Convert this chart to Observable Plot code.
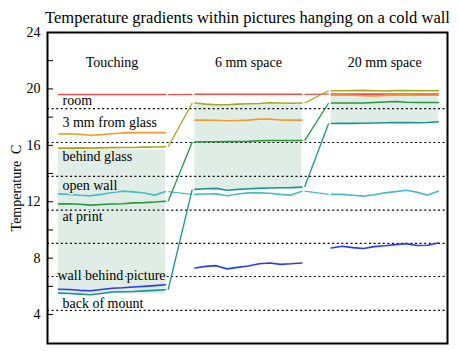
<!DOCTYPE html>
<html><head><meta charset="utf-8">
<script src="https://cdn.jsdelivr.net/npm/d3@7"></script>
<script src="https://cdn.jsdelivr.net/npm/@observablehq/plot@0.6"></script>
<style>body{margin:0;background:#fff}</style>
</head><body><div id="chart"></div>
<script>
const title = "Temperature gradients within pictures hanging on a cold wall";
const yLabel = "Temperature  C";
const panels = ["Touching", "6 mm space", "20 mm space"];
const panelStart = [0, 12.75, 25.5];
const panelLength = 10;
const panelTitleY = 21.9;

const seriesNames = ["room", "3 mm from glass", "behind glass", "open wall", "at print", "wall behind picture", "back of mount"];
const seriesColors = ["#f24a4a", "#f49a2c", "#a9a81c", "#46bcc4", "#22993a", "#2a3af0", "#1b9490"];
const connected = ["room", "behind glass", "open wall", "at print", "back of mount"];

// values [Touching, 6 mm space, 20 mm space], 11 samples each
const room = [
  [19.6,19.6,19.6,19.6,19.6,19.6,19.6,19.6,19.6,19.6,19.6],
  [19.62,19.62,19.62,19.62,19.62,19.62,19.62,19.62,19.62,19.62,19.62],
  [19.63,19.63,19.63,19.63,19.63,19.63,19.63,19.63,19.63,19.63,19.63]];
const mm3FromGlass = [
  [16.8,16.82,16.78,16.72,16.76,16.82,16.88,16.9,16.9,16.9,16.9],
  [17.79,17.79,17.78,17.74,17.76,17.79,17.86,17.86,17.8,17.79,17.79],
  [19.56,19.56,19.55,19.52,19.5,19.54,19.56,19.58,19.56,19.55,19.56]];
const behindGlass = [
  [15.8,15.8,15.82,15.8,15.82,15.84,15.85,15.85,15.87,15.88,15.9],
  [19.0,18.92,18.88,18.88,18.92,18.95,18.97,19.02,19.0,18.98,19.0],
  [19.87,19.87,19.88,19.9,19.87,19.85,19.88,19.88,19.87,19.87,19.87]];
const openWall = [
  [12.56,12.52,12.46,12.42,12.52,12.66,12.75,12.7,12.62,12.47,12.72],
  [12.52,12.55,12.56,12.42,12.55,12.63,12.63,12.6,12.52,12.47,12.75],
  [12.52,12.52,12.46,12.4,12.5,12.63,12.72,12.81,12.68,12.47,12.75]];
const atPrint = [
  [11.85,11.86,11.82,11.76,11.8,11.84,11.86,11.92,11.94,11.98,12.04],
  [16.24,16.25,16.25,16.26,16.27,16.28,16.33,16.34,16.34,16.34,16.34],
  [19.0,19.0,19.0,19.0,19.04,19.07,19.11,19.05,19.04,19.04,19.04]];
const wallBehindPicture = [
  [5.8,5.78,5.72,5.69,5.78,5.87,5.9,5.96,6.0,6.05,6.11],
  [7.3,7.42,7.47,7.24,7.35,7.45,7.6,7.66,7.56,7.6,7.66],
  [8.72,8.84,8.75,8.68,8.82,8.88,8.96,9.03,8.9,8.92,9.08]];
const backOfMount = [
  [5.52,5.5,5.45,5.41,5.5,5.6,5.62,5.64,5.68,5.72,5.76],
  [12.88,12.92,12.95,12.82,12.88,12.92,12.95,12.97,12.99,13.0,13.04],
  [17.55,17.56,17.56,17.57,17.58,17.6,17.61,17.62,17.6,17.62,17.67]];
const seriesValues = [room, mm3FromGlass, behindGlass, openWall, atPrint, wallBehindPicture, backOfMount];

// shaded band (behind glass .. back of mount) per panel
const shadeTop = [15.67, 18.88, 19.5];
const shadeBottom = [5.45, 12.9, 17.55];

// dotted separators between the labels
const separators = [18.6, 16.2, 13.8, 11.4, 9.05, 6.7, 4.3];
const labelY = [19.15, 17.6, 15.2, 13.15, 10.97, 6.75, 4.75];
const labelX = [0.37, 0.37, 0.37, 0.37, 0.37, -0.1, 0.37];
const labelHalo = ["white", "white", "#e0ede6", "#e0ede6", "#e0ede6", "#e0ede6", "white"];

const majorTicks = [4, 8, 12, 16, 20, 24];
const allTicks = [4, 6, 8, 10, 12, 14, 16, 18, 20, 22, 24];

// build tables
const rows = [];
seriesNames.forEach((s, si) => panels.forEach((p, pi) => seriesValues[si][pi].forEach((v, i) => {
  rows.push({series: s, key: s + "|" + p, x: panelStart[pi] + i * panelLength / 10, y: v});
})));
const links = [];
seriesNames.forEach((s, si) => {
  if (!connected.includes(s)) return;
  for (let pi = 0; pi < panels.length - 1; pi++) {
    const a = seriesValues[si][pi], b = seriesValues[si][pi + 1];
    links.push({series: s, x1: panelStart[pi] + panelLength + 0.25, y1: a[a.length - 1], x2: panelStart[pi + 1] - 0.25, y2: b[0]});
  }
});
const shades = panels.map((p, i) => ({x1: panelStart[i], x2: panelStart[i] + panelLength, y1: shadeBottom[i], y2: shadeTop[i]}));
const labels = seriesNames.map((s, i) => ({text: s, x: labelX[i], y: labelY[i], halo: labelHalo[i]}));
const panelTitles = panels.map((p, i) => ({text: p, x: panelStart[i] + panelLength / 2, y: panelTitleY}));

const chart = Plot.plot({
  width: 458, height: 351,
  marginTop: 32, marginLeft: 47, marginRight: 11, marginBottom: 8,
  style: {fontFamily: "'Liberation Serif', 'Times New Roman', serif", fontSize: "14px", background: "white", color: "black"},
  x: {domain: [-1.03, 36.36], axis: null},
  y: {domain: [1.95, 24]},
  color: {domain: seriesNames, range: seriesColors},
  marks: [
    Plot.rect(shades, {x1: "x1", x2: "x2", y1: "y1", y2: "y2", fill: "#e0ede6"}),
    Plot.ruleY(separators, {stroke: "black", strokeWidth: 1.2, strokeDasharray: "2,2.6"}),
    Plot.line(rows, {x: "x", y: "y", z: "key", stroke: "series", strokeWidth: 1.6, curve: "linear"}),
    Plot.link(links, {x1: "x1", y1: "y1", x2: "x2", y2: "y2", stroke: "series", strokeWidth: 1.3}),
    Plot.text(labels, {x: "x", y: "y", text: "text", textAnchor: "start", fontSize: 14, fill: "black", stroke: "halo", strokeWidth: 3}),
    Plot.text(panelTitles, {x: "x", y: "y", text: "text", fontSize: 14, fill: "black"}),
    Plot.text([title], {frameAnchor: "top", dy: -21, text: d => d, fontSize: 16.5, fill: "black"}),
    Plot.frame({stroke: "black", strokeWidth: 2}),
    Plot.axisY(allTicks, {tickSize: -6, tickFormat: () => "", label: null}),
    Plot.axisY(majorTicks, {tickSize: 0, tickPadding: 7, fontSize: 14, label: yLabel, labelAnchor: "center", labelArrow: "none", labelOffset: 36})
  ]
});
document.getElementById("chart").appendChild(chart);
</script>
</body></html>
